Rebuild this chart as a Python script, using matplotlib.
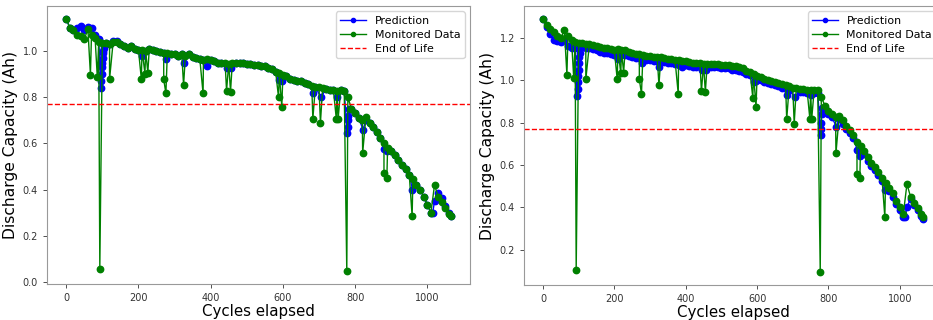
import numpy as np
import matplotlib
matplotlib.use("Agg")
import matplotlib.pyplot as plt


EOL_LEFT = 0.77
EOL_RIGHT = 0.77

# monitored capacity, left cell (every 10 cycles)
CYCLES = [0, 10, 20, 30, 40, 50, 60, 70, 80, 90,
          100, 110, 120, 130, 140, 150, 160, 170, 180, 190,
          200, 210, 220, 230, 240, 250, 260, 270, 280, 290,
          300, 310, 320, 330, 340, 350, 360, 370, 380, 390,
          400, 410, 420, 430, 440, 450, 460, 470, 480, 490,
          500, 510, 520, 530, 540, 550, 560, 570, 580, 590,
          600, 610, 620, 630, 640, 650, 660, 670, 680, 690,
          700, 710, 720, 730, 740, 750, 760, 770, 780, 790,
          800, 810, 820, 830, 840, 850, 860, 870, 880, 890,
          900, 910, 920, 930, 940, 950, 960, 970, 980, 990,
          1000, 1010, 1020, 1030, 1040, 1050, 1060, 1065]

MONITORED_LEFT = [1.14, 1.10, 1.09, 1.07, 1.065, 1.05, 1.095, 1.07, 1.055, 1.04,
                  1.035, 1.035, 1.03, 1.04, 1.04, 1.03, 1.02, 1.015, 1.02, 1.01,
                  1.005, 1.005, 1.0, 1.01, 1.005, 1.0, 0.995, 0.99, 0.99, 0.985,
                  0.985, 0.98, 0.985, 0.98, 0.985, 0.975, 0.97, 0.965, 0.96, 0.965,
                  0.96, 0.955, 0.95, 0.95, 0.95, 0.945, 0.95, 0.95, 0.95, 0.95,
                  0.945, 0.945, 0.94, 0.94, 0.935, 0.935, 0.925, 0.92, 0.91, 0.905,
                  0.895, 0.89, 0.88, 0.875, 0.87, 0.87, 0.86, 0.855, 0.85, 0.845,
                  0.845, 0.84, 0.835, 0.83, 0.83, 0.825, 0.83, 0.825, 0.80, 0.75,
                  0.73, 0.71, 0.70, 0.715, 0.69, 0.67, 0.65, 0.625, 0.60, 0.58,
                  0.565, 0.55, 0.53, 0.505, 0.49, 0.465, 0.445, 0.42, 0.40, 0.37,
                  0.335, 0.30, 0.42, 0.37, 0.345, 0.32, 0.295, 0.285]

MONITORED_RIGHT = [1.29, 1.26, 1.24, 1.225, 1.21, 1.20, 1.235, 1.21, 1.19, 1.18,
                   1.175, 1.175, 1.17, 1.17, 1.165, 1.16, 1.155, 1.15, 1.15, 1.145,
                   1.14, 1.145, 1.14, 1.14, 1.135, 1.13, 1.125, 1.125, 1.12, 1.115,
                   1.115, 1.11, 1.11, 1.11, 1.105, 1.10, 1.10, 1.095, 1.095, 1.09,
                   1.09, 1.085, 1.08, 1.08, 1.08, 1.075, 1.075, 1.075, 1.075, 1.075,
                   1.07, 1.07, 1.07, 1.065, 1.065, 1.06, 1.055, 1.045, 1.04, 1.03,
                   1.02, 1.015, 1.005, 1.0, 0.995, 0.99, 0.985, 0.98, 0.975, 0.97,
                   0.965, 0.965, 0.96, 0.96, 0.955, 0.955, 0.955, 0.955, 0.92, 0.88,
                   0.855, 0.84, 0.825, 0.83, 0.81, 0.785, 0.765, 0.74, 0.71, 0.69,
                   0.665, 0.635, 0.61, 0.59, 0.565, 0.54, 0.515, 0.49, 0.465, 0.43,
                   0.40, 0.37, 0.51, 0.45, 0.42, 0.395, 0.37, 0.355]

# single-cycle drops in the monitored data
DROP_CYCLES = [67, 86, 93, 120, 208, 218, 226, 270, 276, 325, 379, 444, 455,
               588, 597, 683, 704, 748, 753, 777, 821, 880, 888, 958]
DROP_LEFT = [0.898, 0.888, 0.057, 0.878, 0.879, 0.902, 0.906, 0.878, 0.816, 0.852,
             0.816, 0.828, 0.824, 0.799, 0.759, 0.706, 0.688, 0.706, 0.706, 0.046,
             0.559, 0.47, 0.451, 0.284]
DROP_RIGHT = [1.025, 1.012, 0.105, 1.003, 1.004, 1.033, 1.036, 1.003, 0.936, 0.975,
              0.936, 0.948, 0.943, 0.917, 0.873, 0.815, 0.795, 0.815, 0.815, 0.093,
              0.654, 0.557, 0.537, 0.354]

# prediction
PRED_CYCLES = [0, 10, 20, 30, 40, 50, 60, 70, 80, 90,
               96, 97, 98, 99, 100, 101, 102, 103, 104, 110,
               120, 130, 140, 150, 160, 170, 180, 190, 200, 209,
               220, 230, 240, 250, 260, 270, 277, 290, 300, 310,
               320, 326, 340, 350, 360, 370, 380, 390, 400, 410,
               420, 430, 445, 456, 470, 480, 490, 500, 510, 520,
               530, 540, 550, 560, 570, 580, 590, 598, 610, 620,
               630, 640, 650, 660, 670, 684, 690, 705, 720, 730,
               740, 751, 760, 770, 778, 779, 780, 781, 782, 790,
               800, 810, 822, 830, 840, 850, 860, 870, 881, 889,
               900, 910, 920, 930, 940, 950, 959, 970, 980, 990,
               1000, 1010, 1015, 1020, 1030, 1040, 1050, 1060, 1065]

PRED_LEFT = [1.14, 1.10, 1.09, 1.10, 1.11, 1.09, 1.105, 1.10, 1.07, 1.05,
             0.84, 0.87, 0.90, 0.93, 0.95, 0.97, 0.99, 1.0, 1.015, 1.035,
             1.03, 1.045, 1.045, 1.03, 1.02, 1.015, 1.02, 1.01, 1.005, 0.98,
             1.0, 1.01, 1.005, 1.0, 0.995, 0.99, 0.965, 0.985, 0.985, 0.98,
             0.985, 0.95, 0.985, 0.975, 0.97, 0.965, 0.96, 0.935, 0.96, 0.955,
             0.95, 0.95, 0.925, 0.925, 0.95, 0.95, 0.95, 0.945, 0.945, 0.94,
             0.94, 0.935, 0.935, 0.925, 0.92, 0.91, 0.875, 0.87, 0.89, 0.88,
             0.875, 0.87, 0.87, 0.86, 0.855, 0.82, 0.845, 0.80, 0.835, 0.83,
             0.83, 0.80, 0.83, 0.825, 0.645, 0.67, 0.70, 0.72, 0.75, 0.75,
             0.73, 0.71, 0.66, 0.70, 0.69, 0.67, 0.65, 0.625, 0.575, 0.565,
             0.565, 0.55, 0.53, 0.505, 0.49, 0.465, 0.40, 0.42, 0.40, 0.37,
             0.335, 0.30, 0.30, 0.35, 0.385, 0.365, 0.33, 0.30, 0.285]

PRED_RIGHT = [1.29, 1.25, 1.22, 1.19, 1.185, 1.18, 1.19, 1.16, 1.15, 1.15,
              0.925, 0.96, 0.99, 1.02, 1.05, 1.08, 1.11, 1.13, 1.15, 1.155,
              1.15, 1.15, 1.145, 1.14, 1.135, 1.13, 1.13, 1.125, 1.12, 1.10,
              1.12, 1.12, 1.115, 1.11, 1.105, 1.105, 1.08, 1.095, 1.095, 1.09,
              1.09, 1.06, 1.085, 1.08, 1.08, 1.075, 1.07, 1.06, 1.07, 1.065,
              1.06, 1.06, 1.05, 1.05, 1.06, 1.06, 1.06, 1.055, 1.055, 1.055,
              1.05, 1.05, 1.045, 1.04, 1.03, 1.025, 0.99, 0.995, 1.0, 0.99,
              0.985, 0.98, 0.975, 0.97, 0.965, 0.93, 0.955, 0.92, 0.945, 0.945,
              0.94, 0.93, 0.94, 0.94, 0.74, 0.77, 0.80, 0.84, 0.87, 0.87,
              0.84, 0.825, 0.78, 0.815, 0.795, 0.77, 0.75, 0.725, 0.67, 0.64,
              0.65, 0.62, 0.595, 0.575, 0.55, 0.525, 0.48, 0.475, 0.45, 0.415,
              0.385, 0.355, 0.355, 0.40, 0.44, 0.41, 0.385, 0.36, 0.345]


def merge_drops(cycles, values, drop_cycles, drop_values):
    x = np.concatenate([cycles, drop_cycles])
    y = np.concatenate([values, drop_values])
    order = np.argsort(x, kind="stable")
    return x[order], y[order]


def draw_panel(ax, monitored, drops, predicted, eol):
    mx, my = merge_drops(CYCLES, monitored, DROP_CYCLES, drops)

    ax.plot(PRED_CYCLES, predicted, color="b", marker="o", markersize=4.6,
            linewidth=1, label="Prediction")
    ax.plot(mx, my, color="g", marker="o", markersize=4.6,
            linewidth=1, label="Monitored Data")
    ax.axhline(eol, color="r", linestyle="--", linewidth=1, label="End of Life")

    ax.set_xlabel("Cycles elapsed", fontsize=10.8, labelpad=1)
    ax.set_ylabel("Discharge Capacity (Ah)", fontsize=11.2, labelpad=3)
    ax.tick_params(labelsize=7, colors="#333333", length=3, width=0.6)
    for spine in ax.spines.values():
        spine.set_color("#999999")
    ax.legend(loc="upper right", fontsize=7.9, markerscale=0.65,
              handlelength=2.3, borderpad=0.4, labelspacing=0.35)


fig = plt.figure(figsize=(9.33, 3.2), dpi=100)

ax_left = fig.add_axes([47 / 933, 36 / 320, 423 / 933, 278 / 320])
draw_panel(ax_left, MONITORED_LEFT, DROP_LEFT, PRED_LEFT, EOL_LEFT)
ax_left.set_xticks([0, 200, 400, 600, 800, 1000])
ax_left.set_yticks([0.0, 0.2, 0.4, 0.6, 0.8, 1.0])

ax_right = fig.add_axes([524 / 933, 35 / 320, 418 / 933, 279 / 320])
draw_panel(ax_right, MONITORED_RIGHT, DROP_RIGHT, PRED_RIGHT, EOL_RIGHT)
ax_right.set_xticks([0, 200, 400, 600, 800, 1000])
ax_right.set_yticks([0.2, 0.4, 0.6, 0.8, 1.0, 1.2])

fig.savefig("out.png", dpi=100)
